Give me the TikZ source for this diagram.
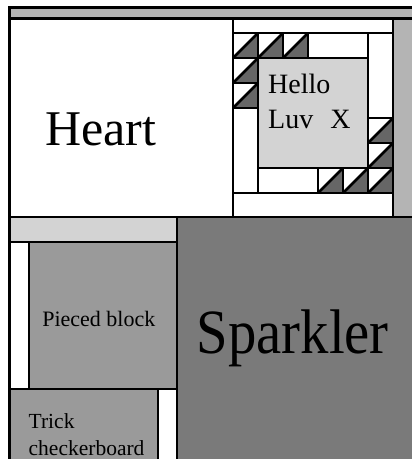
\documentclass[tikz,border=0pt]{standalone}
\usepackage{fontspec}
\setmainfont{Liberation Serif}
\definecolor{bandgray}{RGB}{180,180,180}
\definecolor{lightgray2}{RGB}{211,211,211}
\definecolor{midgray}{RGB}{154,154,154}
\definecolor{sparkgray}{RGB}{122,122,122}
\definecolor{trigray}{RGB}{102,102,102}
\tikzset{
  piece/.style={draw=black, line width=2.6pt},
  lbl/.style={inner sep=0pt, anchor=base, text=black},
  lblw/.style={inner sep=0pt, anchor=base west, text=black},
}
% half-square triangle: left x, top y
\newcommand{\hst}[2]{%
  \fill[white] (#1,#2) rectangle (#1+25,#2+25);
  \fill[trigray] (#1,#2+25) -- (#1+25,#2+25) -- (#1+25,#2) -- cycle;
  \draw[piece] (#1,#2) rectangle (#1+25,#2+25);
  \draw[piece] (#1,#2+25) -- (#1+25,#2);
}
\begin{document}
\begin{tikzpicture}[x=1pt,y=-1pt]
\useasboundingbox (0,0) rectangle (412,459);
\clip (0,0) rectangle (412,459);
\fill[white] (0,0) rectangle (412,459);
% top band
\draw[piece, fill=bandgray] (9.5,7.5) rectangle (430,18.5);
% Heart
\draw[piece, fill=white] (9.5,18.5) rectangle (233,217);
% right gray strip
\draw[piece, fill=bandgray] (393,18.5) rectangle (430,217);
% Hello block area
\draw[piece, fill=white] (233,18.5) rectangle (393,217);
\draw[piece, fill=white] (233,33) rectangle (393,193);
% center square
\draw[piece, fill=lightgray2] (258,58) rectangle (368,168);
% white strips
\draw[piece, fill=white] (308,33) rectangle (368,58);
\draw[piece, fill=white] (368,33) rectangle (393,118);
\draw[piece, fill=white] (233,108) rectangle (258,193);
\draw[piece, fill=white] (258,168) rectangle (318,193);
% triangles
\hst{233}{33}\hst{258}{33}\hst{283}{33}
\hst{233}{58}\hst{233}{83}
\hst{368}{118}\hst{368}{143}\hst{368}{168}
\hst{318}{168}\hst{343}{168}
% lower section
\draw[piece, fill=lightgray2] (9.5,217) rectangle (177,242);
\draw[piece, fill=sparkgray] (177,217) rectangle (430,480);
\draw[piece, fill=white] (9.5,242) rectangle (29,389);
\draw[piece, fill=midgray] (29,242) rectangle (177,389);
\draw[piece, fill=midgray] (9.5,389) rectangle (158,480);
\draw[piece, fill=white] (158,389) rectangle (177,480);
% labels
\node[lbl, font=\fontsize{50}{60}\selectfont] (heart) at (100.8,145) {Heart};
\node[lblw, font=\fontsize{28}{34}\selectfont] (hello) at (268,93.3) {Hello};
\node[lblw, font=\fontsize{28}{34}\selectfont] (luv) at (268,128.3) {Luv\hspace{17pt}X};
\node[lbl, font=\fontsize{63}{70}\selectfont] (sparkler) at (292.8,353.3) {\scalebox{0.9}[1]{Sparkler}};
\node[lbl, font=\fontsize{22}{26}\selectfont] (pieced) at (98.8,326.7) {Pieced block};
\node[lblw, font=\fontsize{21.5}{26}\selectfont] (trick) at (28.5,428.3) {Trick};
\node[lblw, font=\fontsize{21.5}{26}\selectfont] (checker) at (28.5,455) {checkerboard};
\end{tikzpicture}
\end{document}
